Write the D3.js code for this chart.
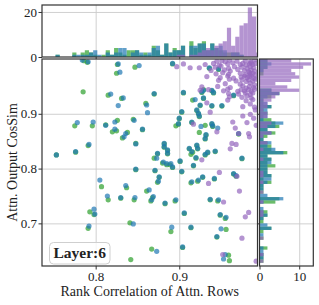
<!DOCTYPE html>
<html>
<head>
<meta charset="utf-8">
<script src="https://cdn.jsdelivr.net/npm/d3@7"></script>
<style>
  body { margin: 0; background: #fff; }
  text { font-family: "Liberation Serif", "DejaVu Serif", serif; fill: #222; }
</style>
</head>
<body>
<svg id="chart" width="319" height="305"></svg>
<script>
// tick values and labels
var xTicks = [0.8, 0.9],
    yTicks = [0.7, 0.8, 0.9],
    topTicks = [0, 20],
    sideTicks = [0, 10];
var xLabel = "Rank Correlation of Attn. Rows",
    yLabel = "Attn. Output CosSim",
    layerLabel = "Layer:6";

// [rank correlation, output cos sim] per head
var bluePts = [[.784,.998],[.791,.995],[.827,.991],[.829,.976],[.852,.988],[.818,.936],[.833,.929],[.870,.937],[.861,.916],[.827,.915],[.862,.902],[.778,.884],[.797,.885],[.812,.879],[.823,.885],[.823,.872],[.846,.888],[.836,.864],[.834,.858],[.856,.872],[.848,.845],[.792,.844],[.776,.831],[.753,.825],[.848,.799],[.805,.779],[.836,.769],[.871,.797],[.873,.819],[.874,.828],[.892,.992],[.936,.984],[.947,.982],[.905,.939],[.927,.940],[.929,.943],[.939,.943],[.941,.939],[.919,.926],[.929,.929],[.951,.915],[.965,.934],[.903,.904],[.921,.907],[.923,.901],[.924,.896],[.900,.892],[.899,.882],[.915,.885],[.926,.877],[.939,.882],[.940,.878],[.946,.874],[.932,.862],[.931,.855],[.971,.864],[.882,.846],[.882,.840],[.886,.834],[.886,.828],[.912,.837],[.915,.831],[.921,.843],[.922,.837],[.920,.820],[.931,.826],[.934,.830],[.943,.832],[.975,.819],[.881,.812],[.885,.809],[.890,.809],[.892,.803],[.901,.814],[.903,.795],[.917,.806],[.876,.785],[.875,.777],[.928,.785],[.923,.779],[.915,.776],[.965,.791],[.968,.787],[.942,.782],[.869,.749],[.867,.743],[.883,.737],[.896,.743],[.937,.744],[.947,.743],[.906,.719],[.949,.716],[.956,.711],[.891,.693],[.914,.693],[.950,.690],[.945,.676],[.873,.649],[.904,.657],[.955,.643],[.953,.635],[.814,.750],[.830,.747],[.847,.747],[.864,.761],[.798,.726],[.799,.717],[.792,.695],[.845,.699],[.925,.916],[.939,.915]];

var greenPts = [[.786,.997],[.790,.994],[.826,.990],[.825,.974],[.847,.985],[.785,.940],[.815,.934],[.831,.928],[.870,.936],[.860,.919],[.775,.878],[.796,.878],[.812,.880],[.826,.888],[.825,.869],[.820,.867],[.845,.890],[.838,.866],[.832,.856],[.856,.871],[.848,.846],[.791,.842],[.776,.830],[.753,.825],[.848,.798],[.807,.767],[.837,.765],[.871,.796],[.870,.819],[.874,.827],[.892,.991],[.936,.983],[.947,.981],[.905,.938],[.927,.939],[.929,.944],[.939,.942],[.941,.938],[.916,.925],[.929,.928],[.951,.914],[.965,.933],[.903,.903],[.921,.906],[.923,.900],[.924,.895],[.900,.891],[.899,.881],[.896,.878],[.915,.884],[.931,.879],[.939,.881],[.940,.877],[.924,.866],[.932,.861],[.931,.854],[.971,.863],[.882,.845],[.882,.839],[.886,.833],[.886,.827],[.912,.836],[.916,.830],[.921,.842],[.922,.836],[.914,.826],[.920,.819],[.931,.825],[.934,.829],[.943,.831],[.975,.818],[.880,.810],[.885,.807],[.889,.807],[.892,.802],[.901,.813],[.903,.794],[.917,.805],[.876,.784],[.874,.775],[.928,.784],[.922,.777],[.914,.774],[.965,.790],[.968,.786],[.942,.781],[.868,.747],[.866,.741],[.883,.736],[.895,.741],[.937,.743],[.946,.741],[.906,.718],[.949,.715],[.955,.709],[.890,.685],[.914,.692],[.956,.689],[.945,.675],[.867,.653],[.904,.656],[.959,.642],[.960,.632],[.815,.743],[.830,.746],[.846,.743],[.861,.759],[.793,.721],[.798,.716],[.791,.691],[.841,.701],[.842,.634],[.925,.915],[.939,.914]];

var purplePts = [
  [.945,.996],[.951,.997],[.955,.995],[.960,.998],[.969,.996],[.979,.997],[.985,.995],[.990,.998],
  [.905,.991],[.931,.990],[.941,.992],[.948,.989],[.958,.991],[.964,.993],[.973,.990],[.976,.992],[.980,.989],[.984,.991],[.986,.993],[.988,.990],[.991,.992],
  [.897,.986],[.913,.984],[.924,.984],[.943,.985],[.950,.987],[.959,.983],[.966,.986],[.975,.985],[.981,.983],[.985,.986],[.989,.984],
  [.938,.979],[.954,.980],[.961,.978],[.970,.981],[.978,.979],[.983,.977],[.986,.980],[.990,.978],
  [.944,.973],[.952,.975],[.959,.972],[.973,.974],[.979,.971],[.984,.975],[.985,.972],[.988,.974],[.991,.971],
  [.933,.968],[.949,.966],[.958,.969],[.965,.965],[.974,.967],[.978,.969],[.981,.966],[.984,.968],[.989,.965],[.986,.969],
  [.947,.961],[.960,.963],[.968,.960],[.975,.962],[.980,.959],[.983,.962],[.988,.960],[.991,.963],
  [.955,.955],[.973,.954],[.985,.956],[.990,.953],
  [.927,.949],[.946,.950],[.961,.948],[.976,.951],[.980,.947],[.984,.950],[.989,.948],
  [.925,.943],[.935,.944],[.953,.942],[.958,.945],[.970,.941],[.974,.944],[.978,.942],[.983,.944],[.986,.941],[.990,.945],
  [.959,.937],[.971,.936],[.979,.938],[.985,.935],[.988,.938],
  [.960,.931],[.975,.930],[.981,.933],[.986,.929],
  [.958,.925],[.980,.924],[.988,.926],
  [.933,.920],[.985,.918],
  [.976,.913],[.990,.912],
  [.937,.903],[.976,.896],[.981,.884],[.985,.899],[.989,.892],[.917,.881],[.964,.885],[.967,.874],[.971,.864],[.983,.864],[.984,.858],[.945,.867],[.963,.846],[.968,.844],[.961,.836],[.927,.816],[.969,.786],[.948,.793],[.935,.773],[.972,.759],[.953,.739],[.983,.720],[.979,.712],[.975,.673],[.952,.643],[.992,.631],[.991,.907],[.992,.879]
];

var svg = d3.select("#chart");

var main = {left: 42, right: 257.5, top: 59, bottom: 266},
    topBox = {top: 5, bottom: 57},
    sideBox = {left: 259.5, right: 313.3};

var x = d3.scaleLinear().domain([0.7358, 0.9936]).range([main.left, main.right]);
var y = d3.scaleLinear().domain([0.6222, 1.0]).range([main.bottom, main.top]);
var yTop = d3.scaleLinear().domain([0, 23.1]).range([topBox.bottom, topBox.top]);
var xSide = d3.scaleLinear().domain([0, 13.55]).range([sideBox.left, sideBox.right]);

var series = [
  {pts: greenPts, color: "#2ca02c"},
  {pts: bluePts, color: "#1f77b4"},
  {pts: purplePts, color: "#9467bd"}
];

var xThresholds = d3.range(52).map(function(i) { return 0.737 + i * 0.005 - 1e-9; }),
    yThresholds = d3.range(63).map(function(i) { return 0.622 + i * 0.006 - 1e-9; });
var binX = d3.bin().value(function(d) { return d[0]; }).domain(x.domain()).thresholds(xThresholds),
    binY = d3.bin().value(function(d) { return d[1]; }).domain(y.domain()).thresholds(yThresholds);

function grid(g) {
  g.selectAll("line").attr("stroke", "#cbcbcb").attr("stroke-width", 0.9);
  g.select(".domain").remove();
  g.selectAll("text").remove();
}

// grids
svg.append("g").attr("transform", "translate(0," + main.bottom + ")")
    .call(d3.axisBottom(x).tickValues(xTicks).tickSize(-(main.bottom - main.top))).call(grid);
svg.append("g").attr("transform", "translate(" + main.left + ",0)")
    .call(d3.axisLeft(y).tickValues(yTicks).tickSize(-(main.right - main.left))).call(grid);
svg.append("g").attr("transform", "translate(0," + topBox.bottom + ")")
    .call(d3.axisBottom(x).tickValues(xTicks).tickSize(-(topBox.bottom - topBox.top))).call(grid);
svg.append("g").attr("transform", "translate(" + main.left + ",0)")
    .call(d3.axisLeft(yTop).tickValues([20]).tickSize(-(main.right - main.left))).call(grid);
svg.append("g").attr("transform", "translate(0," + main.bottom + ")")
    .call(d3.axisBottom(xSide).tickValues([10]).tickSize(-(main.bottom - main.top))).call(grid);
svg.append("g").attr("transform", "translate(" + sideBox.left + ",0)")
    .call(d3.axisLeft(y).tickValues(yTicks).tickSize(-(sideBox.right - sideBox.left))).call(grid);

svg.append("clipPath").attr("id", "clipMain")
  .append("rect").attr("x", main.left).attr("y", main.top)
    .attr("width", main.right - main.left).attr("height", main.bottom - main.top);

// top marginal histograms
series.forEach(function(s) {
  svg.append("g").selectAll("rect")
    .data(binX(s.pts).filter(function(b) { return b.length > 0; }))
    .enter().append("rect")
      .attr("x", function(b) { return x(b.x0); })
      .attr("width", function(b) { return x(b.x1) - x(b.x0); })
      .attr("y", function(b) { return yTop(b.length); })
      .attr("height", function(b) { return yTop(0) - yTop(b.length); })
      .attr("fill", s.color).attr("fill-opacity", 0.7);
});

// right marginal histograms
series.forEach(function(s) {
  svg.append("g").selectAll("rect")
    .data(binY(s.pts).filter(function(b) { return b.length > 0; }))
    .enter().append("rect")
      .attr("x", xSide(0))
      .attr("width", function(b) { return xSide(b.length) - xSide(0); })
      .attr("y", function(b) { return y(b.x1); })
      .attr("height", function(b) { return y(b.x0) - y(b.x1); })
      .attr("fill", s.color).attr("fill-opacity", 0.7);
});

// scatter
series.forEach(function(s) {
  svg.append("g").attr("clip-path", "url(#clipMain)")
    .selectAll("circle")
    .data(s.pts)
    .enter().append("circle")
      .attr("cx", function(d) { return x(d[0]); })
      .attr("cy", function(d) { return y(d[1]); })
      .attr("r", 2.6)
      .attr("fill", s.color).attr("fill-opacity", 0.7);
});

// frames
[[main.left, main.top, main.right, main.bottom],
 [main.left, topBox.top, main.right, topBox.bottom],
 [sideBox.left, main.top, sideBox.right, main.bottom]].forEach(function(b) {
  svg.append("rect").attr("x", b[0]).attr("y", b[1])
    .attr("width", b[2] - b[0]).attr("height", b[3] - b[1])
    .attr("fill", "none").attr("stroke", "#333").attr("stroke-width", 1.2);
});

function axisStyle(g) {
  g.select(".domain").remove();
  g.selectAll("line").attr("stroke", "#333").attr("stroke-width", 1);
  g.selectAll("text").style("font-size", "13px").attr("fill", "#222");
}

svg.append("g").attr("transform", "translate(0," + main.bottom + ")")
    .call(d3.axisBottom(x).tickValues(xTicks).tickSize(3.5).tickPadding(2.3).tickFormat(d3.format(".1f")))
    .call(axisStyle);
svg.append("g").attr("transform", "translate(" + main.left + ",0)")
    .call(d3.axisLeft(y).tickValues(yTicks).tickSize(3.5).tickPadding(1.5).tickFormat(d3.format(".1f")))
    .call(axisStyle);
svg.append("g").attr("transform", "translate(" + main.left + ",0)")
    .call(d3.axisLeft(yTop).tickValues(topTicks).tickSize(3.5).tickPadding(1.5).tickFormat(d3.format("d")))
    .call(axisStyle);
svg.append("g").attr("transform", "translate(0," + topBox.bottom + ")")
    .call(d3.axisBottom(x).tickValues(xTicks).tickSize(2).tickFormat(""))
    .call(axisStyle);
svg.append("g").attr("transform", "translate(0," + main.bottom + ")")
    .call(d3.axisBottom(xSide).tickValues(sideTicks).tickSize(3.5).tickPadding(2.3).tickFormat(d3.format("d")))
    .call(axisStyle);
svg.append("g").attr("transform", "translate(" + sideBox.left + ",0)")
    .call(d3.axisLeft(y).tickValues(yTicks).tickSize(2).tickFormat(""))
    .call(axisStyle);

// axis titles
svg.append("text")
    .attr("x", (main.left + main.right) / 2).attr("y", 296)
    .attr("text-anchor", "middle").style("font-size", "14px")
    .text(xLabel);
svg.append("text")
    .attr("transform", "translate(17," + (main.top + main.bottom) / 2 + ") rotate(-90)")
    .attr("text-anchor", "middle").style("font-size", "14px")
    .text(yLabel);

// layer tag
svg.append("rect")
    .attr("x", 49.5).attr("y", 242.5).attr("width", 60.5).attr("height", 21.5).attr("rx", 4)
    .attr("fill", "#fff").attr("fill-opacity", 0.8).attr("stroke", "#cfcfcf").attr("stroke-width", 1);
svg.append("text")
    .attr("x", 79.7).attr("y", 257.5).attr("text-anchor", "middle")
    .style("font-size", "15.5px").style("font-weight", "bold")
    .text(layerLabel);
</script>
</body>
</html>
